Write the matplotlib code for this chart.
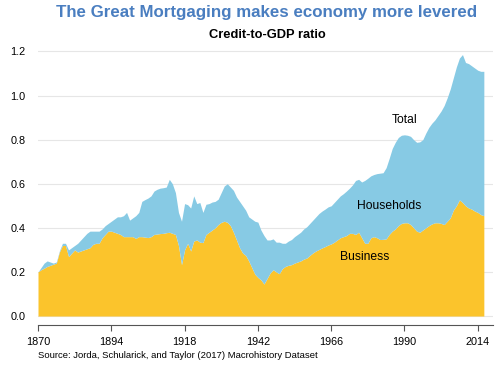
import matplotlib
matplotlib.use("Agg")
import matplotlib.pyplot as plt
import numpy as np

plt.rcParams["font.family"] = ["Liberation Sans", "DejaVu Sans"]

# values (credit-to-GDP ratio)
years = list(range(1870, 2017))

business = [
    0.200, 0.210, 0.217, 0.225, 0.230, 0.235, 0.240, 0.290, 0.320, 0.320,  # 1870s
    0.270, 0.285, 0.300, 0.290, 0.295, 0.300, 0.305, 0.310, 0.325, 0.330,  # 1880s
    0.330, 0.355, 0.370, 0.385, 0.385, 0.380, 0.375, 0.370, 0.360, 0.360,  # 1890s
    0.360, 0.360, 0.352, 0.360, 0.360, 0.358, 0.356, 0.360, 0.370, 0.372,  # 1900s
    0.374, 0.375, 0.378, 0.380, 0.375, 0.370, 0.320, 0.233, 0.300, 0.330,  # 1910s
    0.295, 0.340, 0.345, 0.335, 0.333, 0.370, 0.380, 0.390, 0.400, 0.415,  # 1920s
    0.425, 0.430, 0.425, 0.410, 0.380, 0.345, 0.310, 0.286, 0.275, 0.250,  # 1930s
    0.220, 0.190, 0.175, 0.164, 0.145, 0.170, 0.195, 0.210, 0.200, 0.192,  # 1940s
    0.215, 0.225, 0.230, 0.233, 0.240, 0.245, 0.250, 0.258, 0.263, 0.275,  # 1950s
    0.286, 0.295, 0.302, 0.309, 0.315, 0.322, 0.327, 0.335, 0.345, 0.355,  # 1960s
    0.360, 0.365, 0.375, 0.375, 0.370, 0.380, 0.355, 0.330, 0.330, 0.355,  # 1970s
    0.360, 0.355, 0.347, 0.348, 0.350, 0.370, 0.385, 0.395, 0.410, 0.420,  # 1980s
    0.423, 0.423, 0.415, 0.400, 0.385, 0.380, 0.390, 0.400, 0.410, 0.418,  # 1990s
    0.423, 0.423, 0.420, 0.415, 0.430, 0.445, 0.480, 0.500, 0.527, 0.515,  # 2000s
    0.500, 0.490, 0.485, 0.476, 0.470, 0.460, 0.455,                       # 2010s
]

total = [
    0.200, 0.220, 0.240, 0.250, 0.245, 0.240, 0.245, 0.295, 0.330, 0.330,
    0.300, 0.310, 0.320, 0.330, 0.345, 0.360, 0.375, 0.385, 0.385, 0.385,
    0.385, 0.395, 0.410, 0.420, 0.430, 0.440, 0.450, 0.450, 0.455, 0.470,
    0.435, 0.445, 0.455, 0.470, 0.520, 0.528, 0.535, 0.545, 0.567, 0.575,
    0.580, 0.582, 0.585, 0.620, 0.600, 0.560, 0.470, 0.430, 0.510, 0.505,
    0.490, 0.545, 0.510, 0.515, 0.470, 0.507, 0.510, 0.517, 0.520, 0.530,
    0.560, 0.590, 0.600, 0.585, 0.570, 0.540, 0.520, 0.500, 0.480, 0.450,
    0.440, 0.430, 0.426, 0.390, 0.365, 0.345, 0.345, 0.350, 0.335, 0.335,
    0.330, 0.330, 0.340, 0.347, 0.360, 0.370, 0.380, 0.395, 0.405, 0.420,
    0.435, 0.450, 0.465, 0.476, 0.485, 0.495, 0.500, 0.515, 0.530, 0.545,
    0.555, 0.567, 0.580, 0.595, 0.615, 0.620, 0.608, 0.615, 0.625, 0.636,
    0.642, 0.646, 0.648, 0.650, 0.673, 0.715, 0.760, 0.788, 0.810, 0.820,
    0.822, 0.820, 0.815, 0.800, 0.788, 0.790, 0.800, 0.830, 0.856, 0.875,
    0.890, 0.910, 0.930, 0.955, 0.990, 1.030, 1.080, 1.130, 1.170, 1.186,
    1.150, 1.145, 1.135, 1.125, 1.115, 1.110, 1.110,
]

x_ticks = [1870, 1894, 1918, 1942, 1966, 1990, 2014]
y_ticks = [0.0, 0.2, 0.4, 0.6, 0.8, 1.0, 1.2]

YELLOW = "#FBC42C"
BLUE = "#87CAE4"

fig = plt.figure(figsize=(5, 3.65), dpi=100)
ax = fig.add_axes([0.076, 0.11, 0.91, 0.755])

ax.fill_between(years, 0, business, color=YELLOW, lw=0)
ax.fill_between(years, business, total, color=BLUE, lw=0)

ax.set_xlim(1870, 2019)
ax.set_ylim(-0.04, 1.21)
ax.set_xticks(x_ticks)
ax.set_yticks(y_ticks)
ax.set_yticklabels([f"{v:.1f}" for v in y_ticks])
ax.tick_params(axis="x", labelsize=7.8, length=4, color="#555555", pad=5)
ax.tick_params(axis="y", labelsize=7.8, length=0, pad=9)

ax.set_axisbelow(True)
ax.yaxis.grid(color="#e6e6e6", lw=0.8)
for s in ("top", "right", "left"):
    ax.spines[s].set_visible(False)
ax.spines["bottom"].set_color("#555555")

ax.text(1990, 0.89, "Total", fontsize=8.7, ha="center", va="center")
ax.text(1985, 0.50, "Households", fontsize=8.7, ha="center", va="center")
ax.text(1977, 0.27, "Business", fontsize=8.7, ha="center", va="center")

fig.text(0.534, 0.965, "The Great Mortgaging makes economy more levered",
         fontsize=12.2, fontweight="bold", color="#4A7EC0", ha="center", va="center")
fig.text(0.534, 0.905, "Credit-to-GDP ratio", fontsize=9.3, fontweight="bold",
         ha="center", va="center")
fig.text(0.076, 0.027, "Source: Jorda, Schularick, and Taylor (2017) Macrohistory Dataset",
         fontsize=6.8, ha="left", va="center")

fig.savefig("out.png", dpi=100)
